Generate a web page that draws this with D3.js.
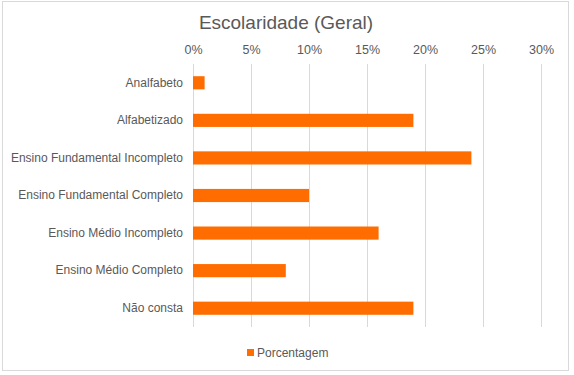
<!DOCTYPE html>
<head>
  <meta charset="utf-8">
  <script src="https://cdnjs.cloudflare.com/ajax/libs/d3/7.8.5/d3.min.js"></script>
  <style>
    body { margin: 0; background: #fff; }
    text { font-family: "Liberation Sans", Arial, sans-serif; fill: #595959; }
  </style>
</head>

<body>
  <svg></svg>
</body>

<script>
  let categories = ["Analfabeto", "Alfabetizado", "Ensino Fundamental Incompleto",
    "Ensino Fundamental Completo", "Ensino Médio Incompleto", "Ensino Médio Completo", "Não consta"];
  let values = [1, 19, 24, 10, 16, 8, 19];
  let ticks = [0, 5, 10, 15, 20, 25, 30];
  let seriesName = "Porcentagem";
  let title = "Escolaridade (Geral)";

  let width = 574, height = 375;
  let margin = {top: 64, bottom: 48, left: 193, right: 33};
  let svg = d3.select("svg").attr("width", width).attr("height", height);

  // outer frame
  svg.append("rect")
    .attr("x", 2.5).attr("y", 1.5)
    .attr("width", 566).attr("height", 369)
    .attr("fill", "#fff").attr("stroke", "#d9d9d9");

  let scales = {
    x: d3.scaleLinear().domain([0, 30]).range([margin.left, width - margin.right]),
    y: d3.scaleBand().domain(categories).range([margin.top, height - margin.bottom]).paddingInner(0.65).paddingOuter(0.325)
  };

  // grid lines
  svg.append("g").selectAll("line")
    .data(ticks)
    .enter()
    .append("line")
    .attr("x1", d => Math.round(scales.x(d)) + 0.5)
    .attr("x2", d => Math.round(scales.x(d)) + 0.5)
    .attr("y1", margin.top)
    .attr("y2", height - margin.bottom)
    .attr("stroke", "#d9d9d9");

  // top axis labels
  let axisTop = d3.axisTop(scales.x).tickValues(ticks).tickSize(0).tickPadding(0).tickFormat(d => d + "%");
  let gx = svg.append("g").attr("transform", "translate(0," + 54 + ")").call(axisTop);
  gx.select(".domain").remove();
  gx.selectAll("text").attr("font-size", 12.5).attr("fill", "#595959").style("font-family", "Liberation Sans, Arial, sans-serif");

  // category labels
  let axisLeft = d3.axisLeft(scales.y).tickSize(0).tickPadding(10);
  let gy = svg.append("g").attr("transform", "translate(" + margin.left + ",0)").call(axisLeft);
  gy.select(".domain").remove();
  gy.selectAll("text").attr("font-size", 12).attr("fill", "#595959").style("font-family", "Liberation Sans, Arial, sans-serif");

  // bars
  svg.append("g").selectAll("rect")
    .data(values)
    .enter()
    .append("rect")
    .attr("x", scales.x(0))
    .attr("y", (d, i) => scales.y(categories[i]))
    .attr("width", d => scales.x(d) - scales.x(0))
    .attr("height", scales.y.bandwidth())
    .attr("fill", "#ff6d00");

  // title
  svg.append("text")
    .attr("x", 286).attr("y", 29)
    .attr("text-anchor", "middle")
    .attr("font-size", 19)
    .text(title);

  // legend
  svg.append("rect")
    .attr("x", 247).attr("y", 349).attr("width", 7).attr("height", 7)
    .attr("fill", "#ff6d00");
  svg.append("text")
    .attr("x", 257).attr("y", 357)
    .attr("font-size", 12)
    .text(seriesName);
</script>
